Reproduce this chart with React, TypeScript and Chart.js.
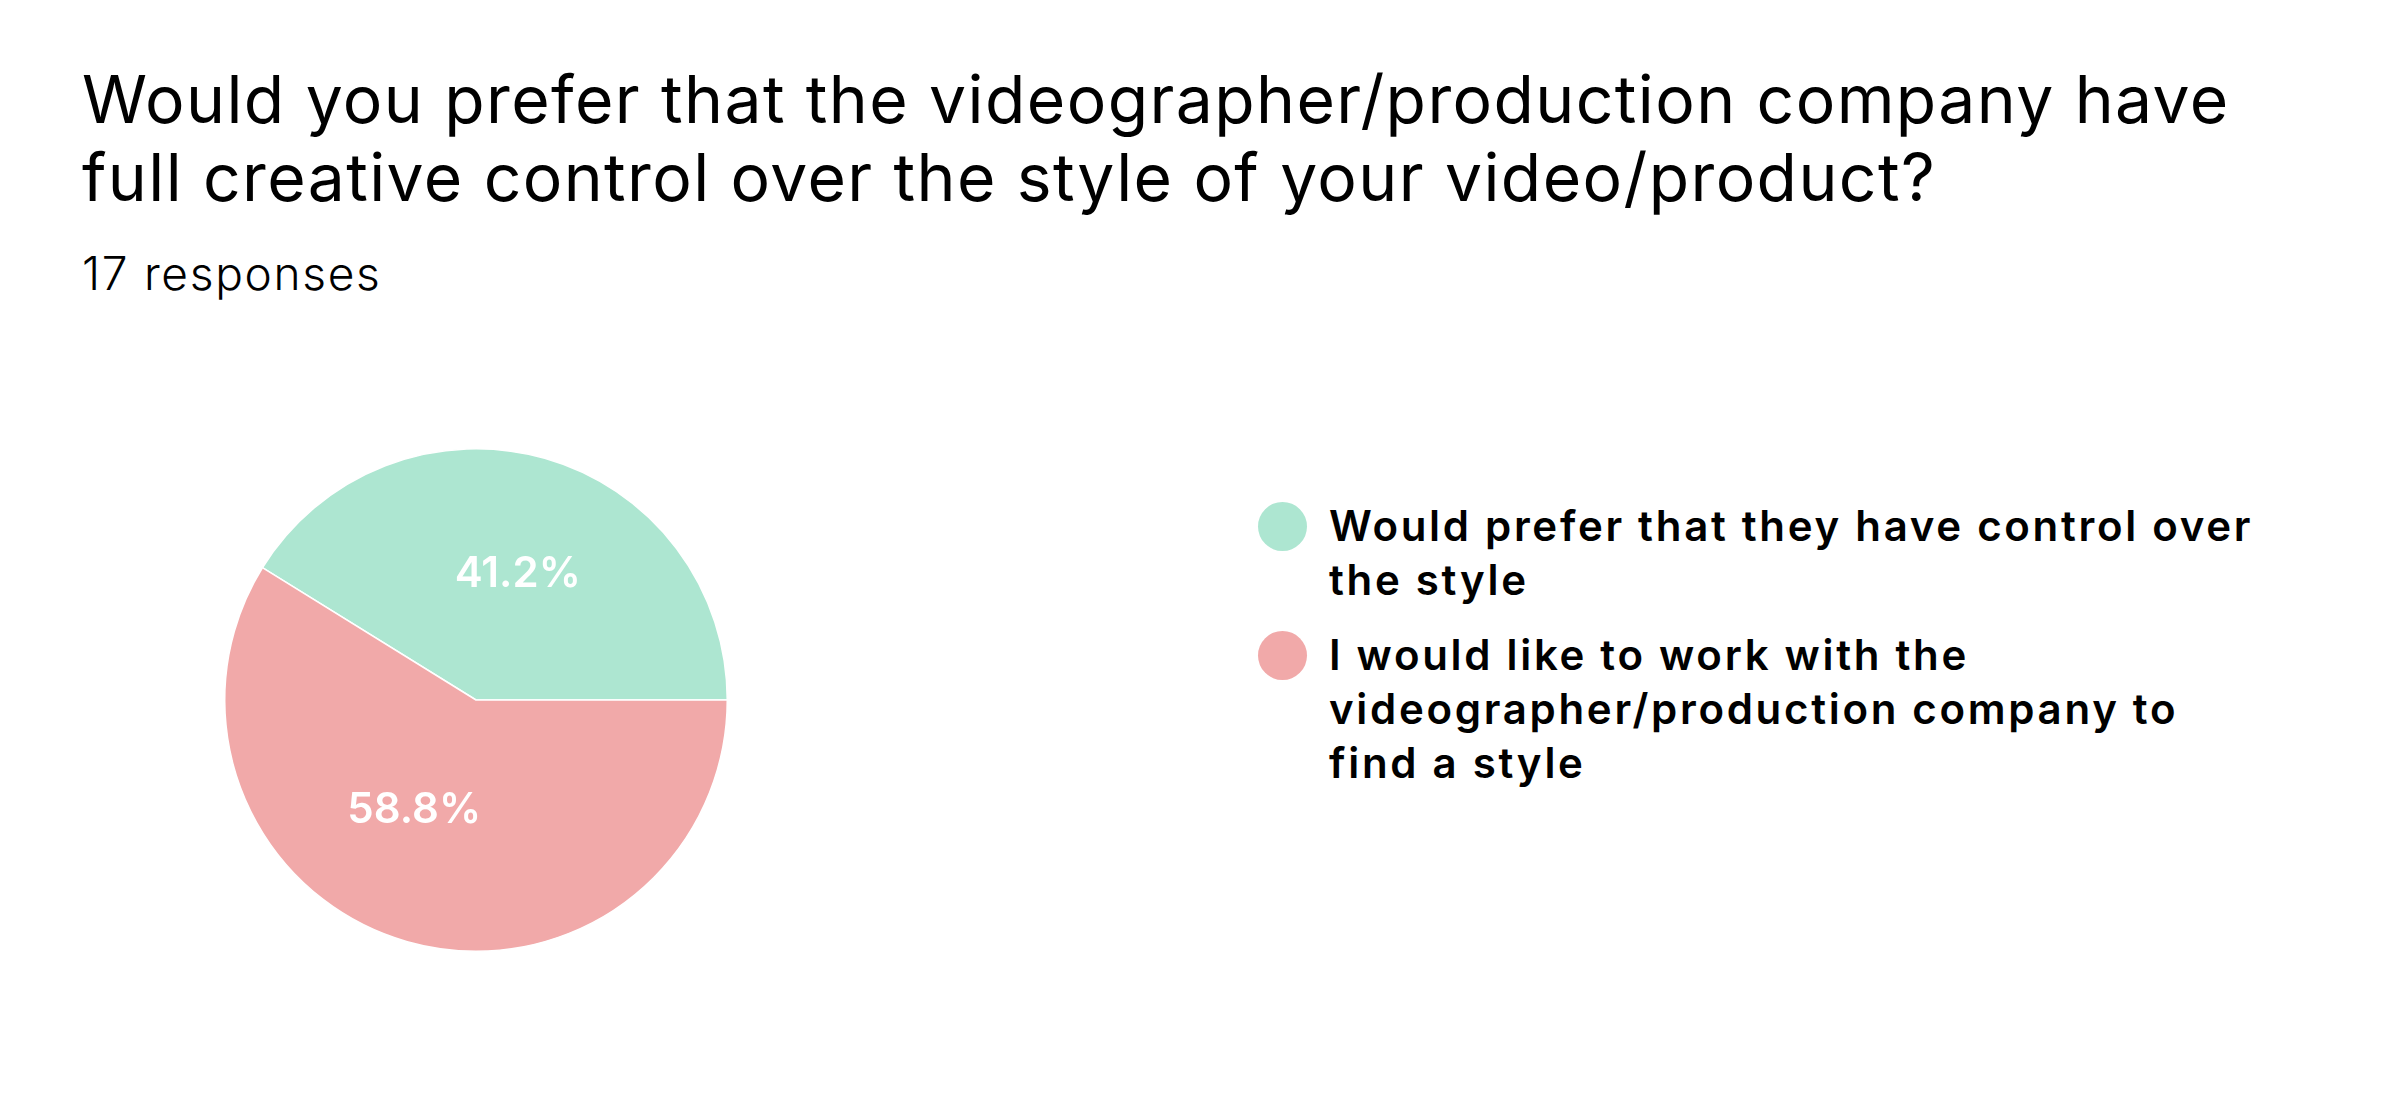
import { useEffect, useRef } from 'react'
import { Chart, ArcElement, PieController, Plugin } from 'chart.js'

Chart.register(ArcElement, PieController)

// survey question: creative control preference (17 responses)

const TITLE_LINES = [
  'Would you prefer that the videographer/production company have',
  'full creative control over the style of your video/product?',
]
const RESPONSES = '17 responses'

const labels = [
  ['Would prefer that they have control over', 'the style'],
  ['I would like to work with the', 'videographer/production company to', 'find a style'],
]
const counts = [7, 10]
const colors = ['#ade6d1', '#f1a9a9']

const FONT = 'Inter, "Open Sans", sans-serif'

// small nudges for the in-slice labels (px)
const LABEL_NUDGE = [[6, 0], [-26, -15]]

const total = counts.reduce((s, v) => s + v, 0)
const pctText = (v: number) => ((v / total) * 100).toFixed(1) + '%'

// white % labels inside each slice
const sliceLabels: Plugin<'pie'> = {
  id: 'sliceLabels',
  afterDatasetsDraw(chart) {
    const { ctx } = chart
    const meta = chart.getDatasetMeta(0)
    ctx.save()
    ctx.fillStyle = '#ffffff'
    ctx.font = `600 42px ${FONT}`
    ctx.textAlign = 'center'
    ctx.textBaseline = 'middle'
    meta.data.forEach((el: any, i) => {
      const { x, y, startAngle, endAngle, outerRadius } = el.getProps(
        ['x', 'y', 'startAngle', 'endAngle', 'outerRadius'], true)
      const mid = (startAngle + endAngle) / 2
      const r = outerRadius * 0.52
      const [dx, dy] = LABEL_NUDGE[i]
      ctx.fillText(pctText(counts[i]), x + Math.cos(mid) * r + dx, y + Math.sin(mid) * r + dy)
    })
    ctx.restore()
  },
}

function PieChart() {
  const canvasRef = useRef<HTMLCanvasElement>(null)

  useEffect(() => {
    if (!canvasRef.current) return
    const chart = new Chart(canvasRef.current, {
      type: 'pie',
      data: {
        labels: labels.map(l => l.join(' ')),
        datasets: [{
          data: counts,
          backgroundColor: colors,
          borderColor: '#ffffff',
          borderWidth: 1.5,
        }],
      },
      options: {
        responsive: true,
        maintainAspectRatio: false,
        animation: false,
        rotation: -(counts[0] / total) * 360 + 90,
        layout: { padding: 8 },
        plugins: {
          legend: { display: false },
          tooltip: { enabled: false },
        },
      },
      plugins: [sliceLabels],
    })
    return () => chart.destroy()
  }, [])

  return (
    <div style={{ position: 'absolute', left: 216, top: 440, width: 520, height: 520 }}>
      <canvas ref={canvasRef} />
    </div>
  )
}

export default function App() {
  return (
    <div
      style={{
        position: 'fixed',
        left: 0,
        top: 0,
        width: 2400,
        height: 1110,
        background: '#ffffff',
        fontFamily: FONT,
        color: '#000000',
      }}
    >
      <div
        style={{
          position: 'absolute',
          left: 82,
          top: 60,
          fontSize: 66,
          lineHeight: '78px',
          letterSpacing: '1.4px',
          whiteSpace: 'nowrap',
        }}
      >
        {TITLE_LINES.map(t => <div key={t}>{t}</div>)}
      </div>
      <div
        style={{
          position: 'absolute',
          left: 82,
          top: 245,
          fontSize: 46,
          lineHeight: '56px',
          fontWeight: 300,
          letterSpacing: '1.7px',
        }}
      >
        {RESPONSES}
      </div>

      <PieChart />

      {/* Legend */}
      <div style={{ position: 'absolute', left: 1258, top: 499, display: 'flex', flexDirection: 'column', gap: 21 }}>
        {labels.map((l, i) => (
          <div key={i} style={{ display: 'flex', alignItems: 'flex-start' }}>
            <span
              style={{
                width: 49,
                height: 49,
                borderRadius: '50%',
                background: colors[i],
                marginTop: 2.5,
                flexShrink: 0,
              }}
            />
            <div
              style={{
                marginLeft: 22,
                fontSize: 42,
                lineHeight: '54px',
                fontWeight: 600,
                letterSpacing: '2.7px',
                whiteSpace: 'nowrap',
              }}
            >
              {l.map(s => <div key={s}>{s}</div>)}
            </div>
          </div>
        ))}
      </div>
    </div>
  )
}
